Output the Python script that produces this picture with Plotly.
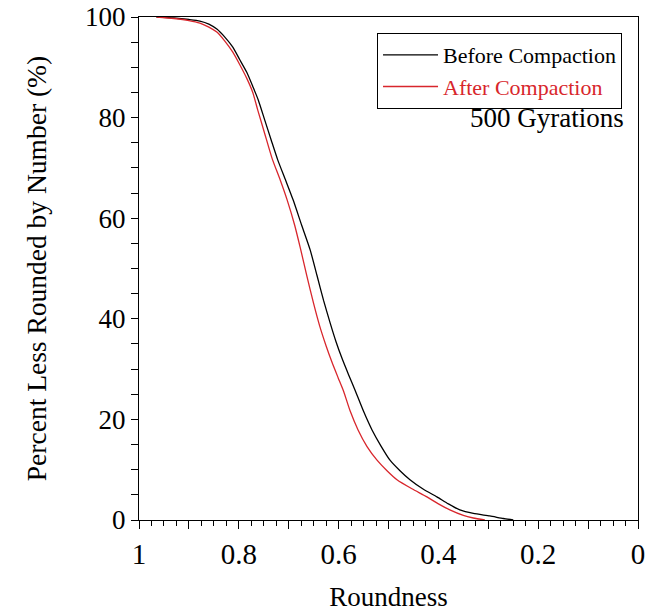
import plotly.graph_objects as go

# Roundness vs cumulative percent
before_r = [0.965, 0.93, 0.90, 0.878, 0.86, 0.844, 0.828, 0.812, 0.798, 0.784,
            0.772, 0.761, 0.748, 0.735, 0.722, 0.706, 0.691, 0.674, 0.657, 0.643,
            0.630, 0.617, 0.605, 0.593, 0.580, 0.567, 0.550, 0.533, 0.515, 0.497,
            0.477, 0.457, 0.430, 0.403, 0.380, 0.357, 0.330, 0.297, 0.270, 0.250]
before_p = [100, 99.8, 99.5, 99.2, 98.6, 97.6, 96.0, 94.0, 91.5, 89.0,
            86.2, 83.5, 79.5, 75.5, 71.6, 67.5, 63.6, 58.6, 53.7, 48.5,
            43.6, 39.2, 35.4, 32.1, 28.9, 25.8, 21.6, 17.9, 14.7, 11.9,
            9.8, 8.0, 6.1, 4.6, 3.2, 2.0, 1.3, 0.8, 0.3, 0.0]

after_r = [0.965, 0.93, 0.90, 0.878, 0.86, 0.844, 0.828, 0.812, 0.798, 0.784,
           0.772, 0.762, 0.748, 0.733, 0.717, 0.703, 0.688, 0.677, 0.664, 0.650,
           0.638, 0.625, 0.613, 0.601, 0.590, 0.577, 0.561, 0.543, 0.523, 0.503,
           0.483, 0.453, 0.423, 0.400, 0.377, 0.350, 0.330, 0.307]
after_p = [100, 99.7, 99.3, 98.8, 98.0, 97.0, 95.2, 93.0, 90.5, 87.8,
           85.0, 81.5, 76.8, 71.8, 67.6, 63.6, 58.6, 54.2, 48.7, 43.0,
           38.6, 34.6, 31.3, 28.3, 25.6, 21.7, 17.9, 14.6, 11.9, 9.8,
           8.0, 6.2, 4.6, 3.2, 2.0, 0.9, 0.4, 0.0]

x_ticks = [1, 0.9, 0.8, 0.7, 0.6, 0.5, 0.4, 0.3, 0.2, 0.1, 0]
x_labels = ["1", "", "0.8", "", "0.6", "", "0.4", "", "0.2", "", "0"]

RED = "#d8262c"
FONT = "Liberation Serif, Times New Roman, serif"

fig = go.Figure()
fig.add_trace(go.Scatter(x=before_r, y=before_p, mode="lines",
                         name="Before Compaction",
                         line=dict(color="black", width=1.3, shape="spline", smoothing=0.6)))
fig.add_trace(go.Scatter(x=after_r, y=after_p, mode="lines",
                         name="<span style='color:%s'>After Compaction</span>" % RED,
                         line=dict(color=RED, width=1.3, shape="spline", smoothing=0.6)))

fig.add_annotation(text="500 Gyrations", xref="paper", yref="paper",
                   x=0.975, y=0.80, xanchor="right", yanchor="middle",
                   showarrow=False, font=dict(size=27, color="black"))

fig.update_layout(
    width=648, height=612,
    margin=dict(l=139, r=10, t=17, b=92),
    plot_bgcolor="white", paper_bgcolor="white",
    font=dict(family=FONT, color="black", size=22),
    legend=dict(x=0.477, y=0.968, xanchor="left", yanchor="top",
                bordercolor="black", borderwidth=1, bgcolor="white",
                font=dict(size=22), tracegroupgap=0, itemwidth=55),
)

fig.update_xaxes(
    range=[1, 0], tickvals=x_ticks, ticktext=x_labels,
    ticks="outside", ticklen=8, tickcolor="black",
    minor=dict(dtick=0.025, ticks="outside", ticklen=5, tickcolor="black"),
    showline=True, linecolor="black", linewidth=1, mirror=True,
    showgrid=False, zeroline=False,
    tickfont=dict(size=29),
    title=dict(text="Roundness", font=dict(size=27), standoff=28),
    automargin=False,
)
fig.update_yaxes(
    range=[0, 100], dtick=20,
    ticks="outside", ticklen=7, tickcolor="black",
    minor=dict(dtick=5, ticks="outside", ticklen=7, tickcolor="black"),
    showline=True, linecolor="black", linewidth=1, mirror=True,
    showgrid=False, zeroline=False,
    tickfont=dict(size=27),
    title=dict(text="Percent Less Rounded by Number (%)", font=dict(size=27.5), standoff=30),
    automargin=False,
)

# drop the default page margin so the figure sits at the window's corner
fig.write_html("out.html", config={"displayModeBar": False},
               post_script="document.body.style.margin='0';")
